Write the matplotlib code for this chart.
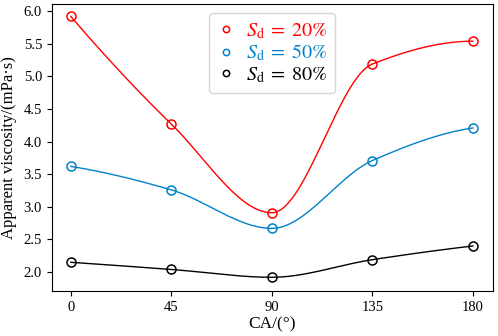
import matplotlib
matplotlib.use('Agg')
import matplotlib.pyplot as plt
import numpy as np

# data
ca = [0, 45, 90, 135, 180]
visc_20 = [5.92, 4.27, 2.91, 5.19, 5.54]
visc_50 = [3.62, 3.26, 2.67, 3.71, 4.21]
visc_80 = [2.15, 2.04, 1.92, 2.19, 2.40]
labels = [r'$S_\mathrm{d}\;=\;20\%$', r'$S_\mathrm{d}\;=\;50\%$', r'$S_\mathrm{d}\;=\;80\%$']
colors = ['#ff0000', '#0082c8', '#000000']


def pchip(x, y, xs):
    # shape-preserving cubic (like scipy's PchipInterpolator), only to smooth the line
    x = np.asarray(x, float)
    y = np.asarray(y, float)
    h = np.diff(x)
    delta = np.diff(y) / h
    n = len(x)
    d = np.zeros(n)
    for k in range(1, n - 1):
        if delta[k - 1] * delta[k] > 0:
            w1 = 2 * h[k] + h[k - 1]
            w2 = h[k] + 2 * h[k - 1]
            d[k] = (w1 + w2) / (w1 / delta[k - 1] + w2 / delta[k])

    def end(h0, h1, m0, m1):
        dd = ((2 * h0 + h1) * m0 - h0 * m1) / (h0 + h1)
        if np.sign(dd) != np.sign(m0):
            dd = 0.0
        elif np.sign(m0) != np.sign(m1) and abs(dd) > abs(3 * m0):
            dd = 3 * m0
        return dd

    d[0] = end(h[0], h[1], delta[0], delta[1])
    d[-1] = end(h[-1], h[-2], delta[-1], delta[-2])
    out = np.empty_like(xs)
    for j, xv in enumerate(xs):
        i = int(np.clip(np.searchsorted(x, xv, side='right') - 1, 0, n - 2))
        t = (xv - x[i]) / h[i]
        h00 = 2 * t**3 - 3 * t**2 + 1
        h10 = t**3 - 2 * t**2 + t
        h01 = -2 * t**3 + 3 * t**2
        h11 = t**3 - t**2
        out[j] = h00 * y[i] + h10 * h[i] * d[i] + h01 * y[i + 1] + h11 * h[i] * d[i + 1]
    return out


plt.rcParams['font.family'] = 'Liberation Serif'
plt.rcParams['mathtext.fontset'] = 'stix'

fig = plt.figure(figsize=(4.98, 3.36), dpi=100)
ax = fig.add_axes([0.104, 0.134, 0.886, 0.854])

xs = np.linspace(0, 180, 400)
for vals, lab, col in zip([visc_20, visc_50, visc_80], labels, colors):
    ax.plot(xs, pchip(ca, vals, xs), color=col, lw=1.0)
    ax.plot(ca, vals, 'o', mfc='none', mec=col, ms=6.5, mew=1.1, label=lab)

ax.set_xlim(-8.5, 189)
ax.set_ylim(1.71, 6.11)
ax.set_xticks(ca)
ax.set_yticks(np.arange(2.0, 6.01, 0.5))
ax.yaxis.set_major_formatter(matplotlib.ticker.FormatStrFormatter('%.1f'))
ax.tick_params(labelsize=10.5)
ax.set_xlabel('CA/(°)', fontsize=12.5, labelpad=2)
ax.set_ylabel('Apparent viscosity/(mPa·s)', fontsize=12, labelpad=5)

leg = ax.legend(loc='upper center', fontsize=14.5, handlelength=0.8,
                handletextpad=0.6, labelspacing=0.1, borderaxespad=0.45,
                markerscale=0.7)
for txt, col in zip(leg.get_texts(), colors):
    txt.set_color(col)

fig.savefig('out.png', dpi=100)
